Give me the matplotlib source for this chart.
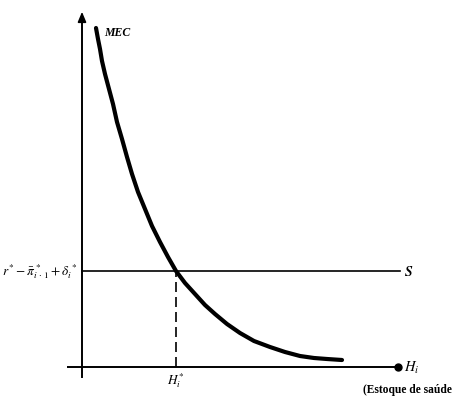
import matplotlib
matplotlib.use("Agg")
import matplotlib.pyplot as plt

# MEC curve (health stock H vs marginal efficiency of capital)
mec_h = [14, 16, 18, 20, 23, 27, 31, 35, 40, 45, 50, 56, 63, 70, 78, 86, 94,
         103, 113, 123, 133, 145, 158, 172, 188, 203, 218, 232, 245, 260]
mec_v = [339, 328, 318, 306, 293, 278, 263, 245, 228, 210, 193, 175, 158, 141,
         125, 110, 96, 84, 73, 62, 53, 43, 34, 26, 20, 15, 11, 9, 8, 7]
# cost of capital level S and equilibrium stock
s_level = 96
h_star = 94
x_max = 316
y_max = 358

plt.rcParams['mathtext.fontset'] = 'stix'
plt.rcParams['font.family'] = ['Liberation Serif', 'DejaVu Serif']

fig = plt.figure(figsize=(4.56, 4.06), dpi=100)
ax = fig.add_axes([0, 0, 1, 1])
ax.set_xlim(-82, 374)
ax.set_ylim(-38, 368)
ax.axis('off')

# axes
ax.plot([-15, x_max], [0, 0], color='black', lw=1.4, solid_capstyle='butt')
ax.plot([x_max], [0], 'o', color='black', ms=5)
ax.plot([0, 0], [-10, y_max - 8], color='black', lw=1.4)
ax.annotate('', xy=(0, y_max), xytext=(0, y_max - 10),
            arrowprops=dict(arrowstyle='-|>,head_length=0.6,head_width=0.25',
                            color='black', lw=1.2))

# S line
ax.plot([0, 318], [s_level, s_level], color='black', lw=1.2)
# dashed drop
ax.plot([h_star, h_star], [0, s_level], color='black', lw=1.2,
        linestyle=(0, (6, 3)))

# MEC curve
ax.plot(mec_h, mec_v, color='black', lw=3.0, solid_capstyle='round',
        solid_joinstyle='round')

# labels
ax.text(22, 335, 'MEC', fontsize=8.5, fontweight='bold', fontstyle='italic',
        ha='left', va='center')
ax.text(322, s_level, r'$\boldsymbol{S}$', fontsize=10, ha='left', va='center')
ax.text(322, 0, r'$\boldsymbol{H_i}$', fontsize=10.5, ha='left', va='center')
ax.text(h_star, -13, r'$\boldsymbol{H_i^{*}}$', fontsize=9.5, ha='center', va='center')
ax.text(281, -22, '(Estoque de saúde', fontsize=8.3, fontweight='bold',
        ha='left', va='center')
ax.text(-4, s_level, r'$r^{*} - \bar{\pi}^{\,*}_{i\,\cdot\,1} + \delta^{\,*}_{i}$',
        fontsize=9.6, ha='right', va='center')

fig.savefig('out.png', dpi=100)
